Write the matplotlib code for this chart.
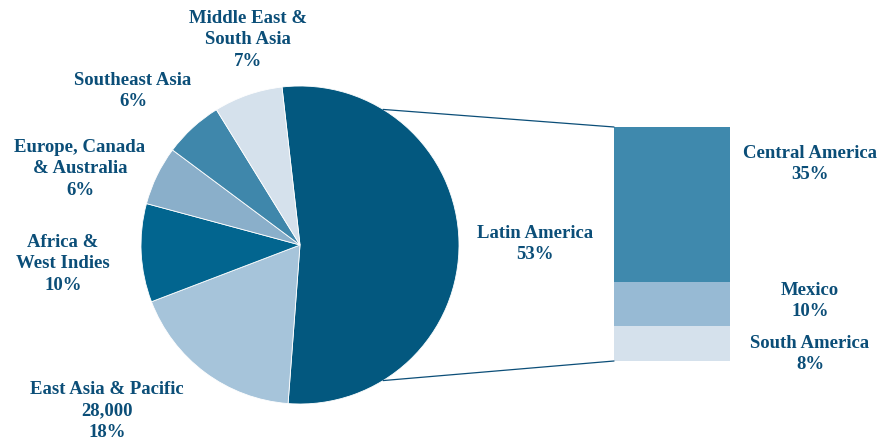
import matplotlib
matplotlib.use("Agg")
import matplotlib.pyplot as plt
from matplotlib.patches import ConnectionPatch
import numpy as np

# ---- data ----
regions = ["Latin America", "East Asia & Pacific", "Africa &\nWest Indies",
           "Europe, Canada\n& Australia", "Southeast Asia", "Middle East &\nSouth Asia"]
region_pct = [53, 18, 10, 6, 6, 7]
region_labels = ["Latin America\n53%", "East Asia & Pacific\n28,000\n18%",
                 "Africa &\nWest Indies\n10%", "Europe, Canada\n& Australia\n6%",
                 "Southeast Asia\n6%", "Middle East &\nSouth Asia\n7%"]
sub_regions = ["Central America", "Mexico", "South America"]
sub_pct = [35, 10, 8]
sub_labels = ["Central America\n35%", "Mexico\n10%", "South America\n8%"]

# ---- styles ----
pie_colors = ["#03587f", "#a6c4da", "#02658f", "#8aafca", "#3f87ab", "#d5e1ec"]
bar_colors = ["#3f89ad", "#97bad4", "#d5e1ec"]
txt_color = "#0b4e78"
W, H = 881, 443

fig = plt.figure(figsize=(W / 100, H / 100), dpi=100)
ax = fig.add_axes([0, 0, 1, 1])

cx, cy, r = 300, H - 245, 159
start = 96.5
ax.pie(region_pct, colors=pie_colors, startangle=start, counterclock=False,
       center=(cx, cy), radius=r, frame=True,
       wedgeprops=dict(linewidth=0.6, edgecolor="white"))
ax.set_xlim(0, W)
ax.set_ylim(0, H)
ax.set_aspect("equal")
ax.axis("off")

# bar axes
bx0, bx1, by0, by1 = 614, 730, 127, 361
ax2 = fig.add_axes([bx0 / W, (H - by1) / H, (bx1 - bx0) / W, (by1 - by0) / H])
bottom = 0
for val, col in zip(sub_pct[::-1], bar_colors[::-1]):
    ax2.bar(0, val, bottom=bottom, width=1, color=col, linewidth=0)
    bottom += val
ax2.set_xlim(-0.5, 0.5)
ax2.set_ylim(0, sum(sub_pct))
ax2.axis("off")

# connection lines
ang = np.deg2rad(58.5)
for sgn, yb in [(1, sum(sub_pct)), (-1, 0)]:
    p = (cx + r * np.cos(ang), cy + sgn * r * np.sin(ang))
    con = ConnectionPatch(xyA=(-0.5, yb), coordsA=ax2.transData,
                          xyB=p, coordsB=ax.transData, color=txt_color, lw=0.9)
    fig.add_artist(con)

font = dict(family=["Liberation Serif", "DejaVu Serif"], fontweight="bold",
            fontsize=13.5, color=txt_color, ha="center", va="top", linespacing=1.34)

label_pos = [(535, 225), (107, 381), (63, 234), (80, 139), (133, 72), (248, 10)]
for lab, (x, y) in zip(region_labels, label_pos):
    ax.text(x, H - y, lab, **font)

sub_pos = [(810, 145), (810, 282), (810, 335)]
for lab, (x, y) in zip(sub_labels, sub_pos):
    ax.text(x, H - y, lab, **font)

fig.savefig("out.png", dpi=100)
